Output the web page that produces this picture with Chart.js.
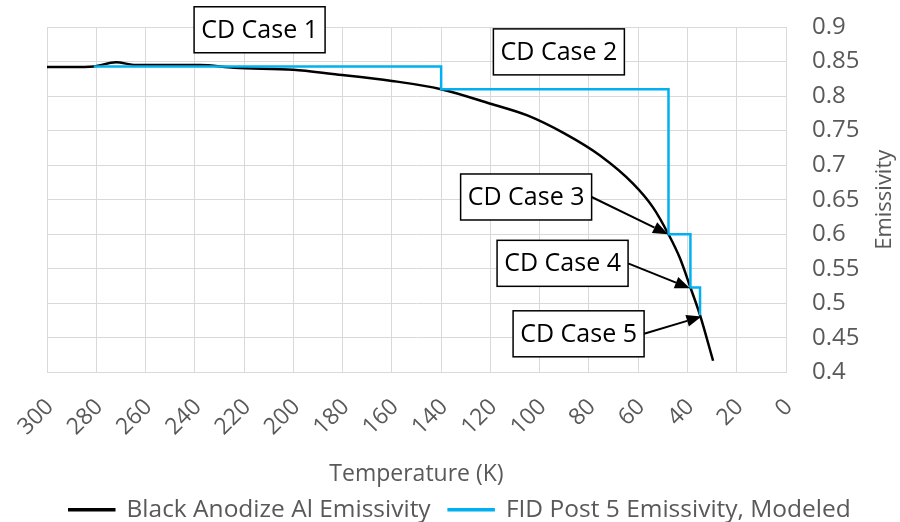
<!DOCTYPE html>
<html>
<head>
<meta charset="utf-8">
<script src="https://cdn.jsdelivr.net/npm/chart.js@4/dist/chart.umd.min.js"></script>
<style>
  html, body { margin: 0; padding: 0; background: #fff; }
</style>
</head>
<body>
<canvas id="chart" width="900" height="522"></canvas>
<script>
// measured black anodize curve (temperature K -> emissivity)
const anodizeTemp = [300, 290, 281, 272, 264, 238, 224, 200, 184, 160, 140, 120, 105, 90, 75.5, 62, 54, 47.7, 43, 38.8, 34.9, 29.6];
const anodizeEmis = [0.842, 0.842, 0.843, 0.849, 0.845, 0.845, 0.841, 0.838, 0.832, 0.822, 0.81, 0.789, 0.772, 0.746, 0.714, 0.673, 0.639, 0.6, 0.565, 0.523, 0.483, 0.417];

// modeled step profile
const modelTemp = [281, 140, 140, 47.7, 47.7, 38.8, 38.8, 34.9, 34.9];
const modelEmis = [0.843, 0.843, 0.81, 0.81, 0.6, 0.6, 0.523, 0.523, 0.483];

const seriesNames = ["Black Anodize Al Emissivity", "FID Post 5 Emissivity, Modeled"];

const xTickValues = [300, 280, 260, 240, 220, 200, 180, 160, 140, 120, 100, 80, 60, 40, 20, 0];
const xTickLabels = ["300", "280", "260", "240", "220", "200", "180", "160", "140", "120", "100", "80", "60", "40", "20", "0"];
const yTickValues = [0.4, 0.45, 0.5, 0.55, 0.6, 0.65, 0.7, 0.75, 0.8, 0.85, 0.9];
const yTickLabels = ["0.4", "0.45", "0.5", "0.55", "0.6", "0.65", "0.7", "0.75", "0.8", "0.85", "0.9"];
const xTitle = "Temperature (K)";
const yTitle = "Emissivity";

// callout boxes (centre in data units) and arrow tips
const caseLabels = ["CD Case 1", "CD Case 2", "CD Case 3", "CD Case 4", "CD Case 5"];
const caseBoxTemp = [213.7, 92.2, 105.5, 90.7, 84.2];
const caseBoxEmis = [0.896, 0.864, 0.654, 0.558, 0.456];
const caseTipTemp = [null, null, 47.9, 39, 34.3];
const caseTipEmis = [null, null, 0.6, 0.522, 0.481];

const FONT = "'Open Sans', sans-serif";
const GREY = "#595959";
const GRID = "#d9d9d9";

const calloutPlugin = {
  id: "callouts",
  afterDraw(chart) {
    const { ctx, scales, chartArea } = chart;
    const bw = 131, bh = 46;
    ctx.save();
    caseLabels.forEach((txt, i) => {
      const cx = scales.x.getPixelForValue(caseBoxTemp[i]);
      const cy = scales.y.getPixelForValue(caseBoxEmis[i]);
      const left = cx - bw / 2, top = cy - bh / 2;

      if (caseTipTemp[i] !== null) {
        const sx = left + bw, sy = cy;
        const tx = scales.x.getPixelForValue(caseTipTemp[i]);
        const ty = scales.y.getPixelForValue(caseTipEmis[i]);
        const ang = Math.atan2(ty - sy, tx - sx);
        const headLen = 15, headW = 6;
        const bx = tx - headLen * Math.cos(ang), by = ty - headLen * Math.sin(ang);
        ctx.strokeStyle = "#000";
        ctx.lineWidth = 2;
        ctx.beginPath();
        ctx.moveTo(sx, sy);
        ctx.lineTo(bx, by);
        ctx.stroke();
        ctx.fillStyle = "#000";
        ctx.beginPath();
        ctx.moveTo(tx, ty);
        ctx.lineTo(bx + headW * Math.sin(ang), by - headW * Math.cos(ang));
        ctx.lineTo(bx - headW * Math.sin(ang), by + headW * Math.cos(ang));
        ctx.closePath();
        ctx.fill();
      }

      ctx.fillStyle = "#fff";
      ctx.fillRect(left, top, bw, bh);
      ctx.strokeStyle = "#000";
      ctx.lineWidth = 1.5;
      ctx.strokeRect(left, top, bw, bh);
      ctx.fillStyle = "#000";
      ctx.font = "25px " + FONT;
      ctx.textAlign = "center";
      ctx.textBaseline = "middle";
      ctx.fillText(txt, cx, cy + 1);
    });

    // right-hand axis title, reads bottom to top like the original
    ctx.translate(885, (chartArea.top + chartArea.bottom) / 2);
    ctx.rotate(-Math.PI / 2);
    ctx.fillStyle = GREY;
    ctx.font = "22px " + FONT;
    ctx.textAlign = "center";
    ctx.textBaseline = "middle";
    ctx.fillText(yTitle, 0, 0);
    ctx.restore();
  }
};

new Chart(document.getElementById("chart"), {
  type: "line",
  data: {
    datasets: [
      {
        label: seriesNames[0],
        data: anodizeTemp.map((t, i) => ({ x: t, y: anodizeEmis[i] })),
        borderColor: "#000000",
        backgroundColor: "#000000",
        borderWidth: 2.5,
        pointRadius: 0,
        cubicInterpolationMode: "monotone",
        order: 1
      },
      {
        label: seriesNames[1],
        data: modelTemp.map((t, i) => ({ x: t, y: modelEmis[i] })),
        borderColor: "#00b0f0",
        backgroundColor: "#00b0f0",
        borderWidth: 2.5,
        pointRadius: 0,
        tension: 0,
        order: 0
      }
    ]
  },
  options: {
    responsive: false,
    animation: false,
    layout: { padding: { top: 27, left: 47, right: 27, bottom: -10 } },
    scales: {
      x: {
        type: "linear",
        reverse: true,
        min: 0,
        max: 300,
        afterBuildTicks: s => { s.ticks = xTickValues.map(v => ({ value: v })); },
        afterFit: s => { s.height = 107; s.paddingLeft = 0; s.paddingRight = 0; },
        ticks: {
          autoSkip: false,
          minRotation: 45,
          maxRotation: 45,
          padding: 21,
          labelOffset: 3,
          color: GREY,
          font: { family: FONT, size: 23 },
          callback: (v, i) => xTickLabels[i]
        },
        grid: { color: GRID, drawTicks: false },
        border: { color: GRID },
        title: {
          display: true,
          text: xTitle,
          color: GREY,
          font: { family: FONT, size: 23 },
          padding: { top: 0, bottom: -9 }
        }
      },
      y: {
        position: "right",
        min: 0.4,
        max: 0.9,
        afterBuildTicks: s => { s.ticks = yTickValues.map(v => ({ value: v })); },
        afterFit: s => { s.width = 87; s.paddingTop = 0; s.paddingBottom = 0; },
        ticks: {
          padding: 26,
          color: GREY,
          font: { family: FONT, size: 24 },
          callback: (v, i) => yTickLabels[i]
        },
        grid: { color: GRID, drawTicks: false },
        border: { color: GRID }
      }
    },
    plugins: {
      legend: {
        position: "bottom",
        labels: {
          boxWidth: 45,
          boxHeight: 1,
          padding: 18,
          color: GREY,
          font: { family: FONT, size: 24.5 },
          sort: (a, b) => a.datasetIndex - b.datasetIndex
        }
      },
      tooltip: { enabled: false }
    }
  },
  plugins: [calloutPlugin]
});
</script>
</body>
</html>
